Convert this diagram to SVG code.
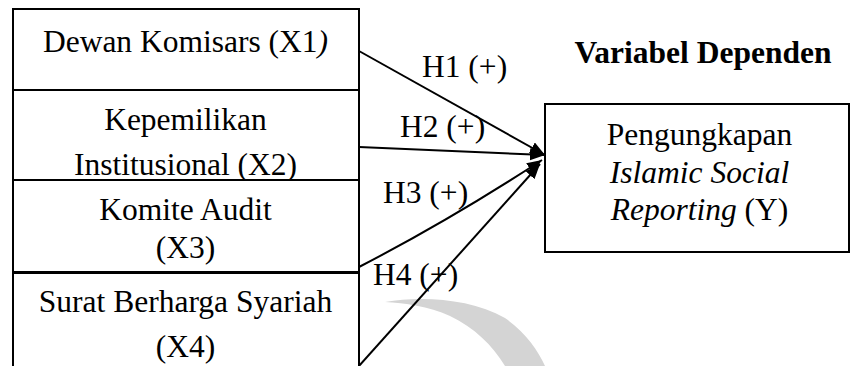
<svg xmlns="http://www.w3.org/2000/svg" width="851" height="366" viewBox="0 0 851 366">
  <style>
    .box { fill: #ffffff; stroke: #000000; stroke-width: 2; }
    .t { font-family: "Liberation Serif", "Times New Roman", serif; font-size: 31.5px; fill: #000000; }
    .c { text-anchor: middle; }
    .b { font-weight: bold; }
    .i { font-style: italic; }
    .edge { fill: none; stroke: #000000; stroke-width: 2; }
  </style>
  <defs>
    <marker id="arrow" markerUnits="userSpaceOnUse" markerWidth="18" markerHeight="14" refX="15" refY="6" orient="auto">
      <path d="M0,0 L15,6 L0,12 z" fill="#000000"/>
    </marker>
  </defs>

  <!-- watermark arc -->
  <path d="M385,302 C420,296 470,298 505,318 C525,332 538,350 545,366 L505,366 C492,345 475,328 450,316 C428,306 405,303 385,302 z" fill="#d4d4d4"/>

  <g id="x1">
    <rect class="box" x="13" y="9" width="346" height="81"/>
    <text class="t c" x="185.5" y="52">Dewan Komisars (X1<tspan class="i">)</tspan></text>
  </g>
  <g id="x2">
    <rect class="box" x="13" y="90" width="346" height="90"/>
    <text class="t c" x="185.5" y="130">Kepemilikan</text>
    <text class="t c" x="185.5" y="175">Institusional (X2)</text>
  </g>
  <g id="x3">
    <rect class="box" x="13" y="180" width="346" height="92"/>
    <text class="t c" x="185.5" y="220">Komite Audit</text>
    <text class="t c" x="185.5" y="258">(X3)</text>
  </g>
  <g id="x4">
    <rect class="box" x="13" y="273" width="346" height="110"/>
    <text class="t c" x="185.5" y="312">Surat Berharga Syariah</text>
    <text class="t c" x="185.5" y="357">(X4)</text>
  </g>

  <g id="title">
    <text class="t c b" x="703" y="63">Variabel Dependen</text>
  </g>

  <g id="y">
    <rect class="box" x="545" y="104" width="304" height="148"/>
    <text class="t c" x="699.5" y="145">Pengungkapan</text>
    <text class="t c i" x="699.5" y="183">Islamic Social</text>
    <text class="t c" x="699.5" y="220"><tspan class="i">Reporting</tspan> (Y)</text>
  </g>

  <g id="connectors">
    <path class="edge" d="M359,51 L545,155" marker-end="url(#arrow)"/>
    <path class="edge" d="M359,147 L545,155" marker-end="url(#arrow)"/>
    <path class="edge" d="M359,267 Q450,220 542,160" marker-end="url(#arrow)"/>
    <path class="edge" d="M359,366 L540,164" marker-end="url(#arrow)"/>
    <text class="t" x="422" y="77">H1 (+)</text>
    <text class="t" x="400" y="137">H2 (+)</text>
    <text class="t" x="383" y="203">H3 (+)</text>
    <text class="t" x="373" y="285">H4 (+)</text>
  </g>
</svg>
